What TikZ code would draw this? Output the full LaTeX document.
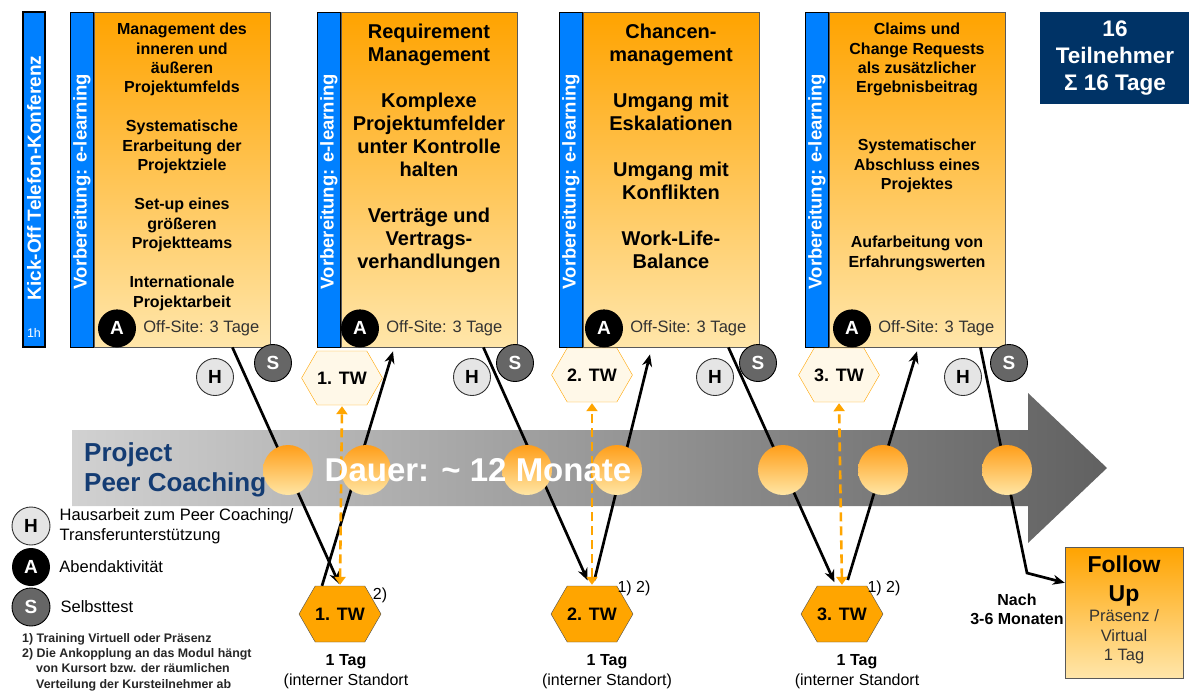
\documentclass[tikz,border=0pt]{standalone}
\usepackage{fontspec}
\setmainfont{Liberation Sans}
\usetikzlibrary{positioning,shapes.symbols,arrows.meta}

\definecolor{barblue}{RGB}{0,128,255}
\definecolor{boxorange}{RGB}{255,163,0}
\definecolor{boxmid}{RGB}{255,196,85}
\definecolor{boxlight}{RGB}{255,230,170}
\definecolor{navy}{RGB}{0,51,102}
\definecolor{titleblue}{RGB}{20,60,115}
\definecolor{hexorange}{RGB}{255,165,0}
\definecolor{hexcream}{RGB}{255,248,232}
\newcommand{\fs}[2]{\fontsize{#1}{#2}\selectfont}

\begin{document}
\begin{tikzpicture}[x=1pt,y=-1pt,
  modbox/.style={draw=black!65,top color=boxorange,middle color=boxmid,bottom color=boxlight,
    minimum width=176pt,minimum height=335pt,inner sep=0},
  barbox/.style={draw=black,line width=1.3pt,fill=barblue,minimum width=23pt,minimum height=335pt,inner sep=0},
  bartext/.style={rotate=90,text=white,font=\bfseries\fs{18.5}{22}},
  modtext/.style={anchor=north,align=center,inner sep=0},
  offtext/.style={text=black!80,font=\fs{16.5}{20},inner sep=0},
  acirc/.style={circle,fill=black,text=white,minimum size=38pt,inner sep=0,font=\bfseries\fs{19}{20}},
  hcirc/.style={circle,draw=black!80,line width=.9pt,fill=black!10,minimum size=37pt,inner sep=0,font=\bfseries\fs{19}{20}},
  scirc/.style={circle,draw=black,line width=.9pt,fill=black!60,text=white,minimum size=37pt,inner sep=0,font=\bfseries\fs{19}{20}},
  tophex/.style={signal,signal to=east and west,signal pointer angle=120,draw=hexorange,fill=hexcream,
    minimum width=78pt,minimum height=54pt,inner sep=0,font=\bfseries\fs{18}{20}},
  bothex/.style={signal,signal to=east and west,signal pointer angle=120,draw=black!70,fill=hexorange,
    minimum width=80pt,minimum height=56pt,inner sep=0,font=\bfseries\fs{18}{20}},
  dot/.style={circle,minimum size=50pt,inner sep=0,top color={rgb,255:red,255;green,158;blue,25},
    bottom color={rgb,255:red,255;green,230;blue,165}},
  link/.style={line width=2.7pt,-{Stealth[length=12pt,width=10pt]}},
  twlink/.style={draw=hexorange,line width=2.6pt,dash pattern=on 9pt off 5pt,
    {Triangle[length=8pt,width=11pt]}-{Triangle[length=8pt,width=11pt]},shorten <=1pt,shorten >=1pt},
  legtext/.style={align=left,inner sep=0,font=\fs{16.5}{19.5}}]
\useasboundingbox (0,0) rectangle (1189,691);

% time line
\shade[left color=black!18,right color=black!62]
  (72,430) -- (1028,430) -- (1028,393) -- (1107,468) -- (1028,543) -- (1028,506) -- (72,506) -- cycle;

% kick-off
\node[barbox,minimum width=22pt] (kick) at (34,179.5) {};
\node[bartext,font=\bfseries\fs{19}{22}] (kicktxt) at (34,178) {Kick-Off Telefon-Konferenz};
\node[text=white,font=\fs{12.5}{14}] (kickh) at (34,333) {1h};

% the four modules
\foreach \i/\x/\ax/\hx/\sx in {1/94/23/215/273,2/341/19/472/515,3/583/21/715/758,4/829/23/963/1009}{
  \node[modbox,anchor=north west] (mod\i) at (\x,12) {};
  \node[barbox,anchor=north east] (bar\i) at (\x,12) {};
  \node[bartext] (vb\i) at ([yshift=-1.5pt]bar\i.center) {Vorbereitung: e-learning};
  \node[acirc] (a\i) at ([xshift=\ax pt,yshift=19pt]mod\i.south west) {A};
  \node[offtext,right=7pt of a\i] (off\i) {Off-Site: 3 Tage};
  \node[hcirc] (h\i) at (\hx,377) {H};
  \node[scirc] (s\i) at (\sx,363) {S};
}
\node[modtext,font=\bfseries\fs{16}{19.3}] (t1) at (182,23) {Management des\\inneren und\\äußeren\\Projektumfelds\\[20pt]
  Systematische\\Erarbeitung der\\Projektziele\\[20pt]Set-up eines\\größeren\\Projektteams\\[20pt]
  Internationale\\Projektarbeit};
\node[modtext,font=\bfseries\fs{20}{23}] (t2) at (429,24) {Requirement\\Management\\[23pt]Komplexe\\Projektumfelder\\
  unter Kontrolle\\halten\\[23pt]Verträge und\\Vertrags-\\verhandlungen};
\node[modtext,font=\bfseries\fs{20}{23}] (t3) at (671,24) {Chancen-\\management\\[23pt]Umgang mit\\Eskalationen\\[23pt]
  Umgang mit\\Konflikten\\[23pt]Work-Life-\\Balance};
\node[modtext,font=\bfseries\fs{16}{19.3}] (t4) at (917,23) {Claims und\\Change Requests\\als zusätzlicher\\Ergebnisbeitrag\\[39pt]
  Systematischer\\Abschluss eines\\Projektes\\[39pt]Aufarbeitung von\\Erfahrungswerten};

% participants
\node[fill=navy,text=white,minimum width=150pt,minimum height=92pt,inner sep=0,align=center,
  font=\bfseries\fs{22.5}{27}] (tn) at (1115,58) {16\\Teilnehmer\\Σ 16 Tage};

% transfer workshops
\foreach \i/\tx/\ty/\bx/\dx in {1/342/378/340/346,2/592/375/592/607,3/839/375/842/857}{
  \node[tophex] (thex\i) at (\tx,\ty) {\i. TW};
  \node[bothex] (bhex\i) at (\bx,614) {\i. TW};
  \node[align=center,inner sep=0,font=\fs{16}{20}] (day\i) at (\dx,672) {\textbf{1 Tag}\\(interner Standort\ifnum\i=2)\fi};
}
\node[font=\fs{16}{19}] (fn1) at (380,595) {2)};
\node[font=\fs{16}{19}] (fn2) at (634,588) {1) 2)};
\node[font=\fs{16}{19}] (fn3) at (884,588) {1) 2)};

% follow up
\node[draw=black!65,top color=boxorange,middle color=boxmid,bottom color=boxlight,
  minimum width=118pt,minimum height=131pt,inner sep=0] (follow) at (1124,612.5) {};
\node[align=center,inner sep=0,font=\bfseries\fs{23}{29}] (followhd) at (1124,581.5) {Follow\\Up};
\node[align=center,inner sep=0,text=black!80,font=\fs{16.5}{19.5}] (followsub) at (1124,637) {Präsenz /\\Virtual\\1 Tag};
\node[align=center,inner sep=0,font=\bfseries\fs{16}{19}] (nach) at (1017,609.5) {Nach\\3-6 Monaten};
\coordinate (knick) at (1027,573);

% connectors
\draw[link,shorten >=2pt] ([xshift=-38pt]mod1.south east) -- (bhex1.north);
\draw[link] ([xshift=-18pt]bhex1.north) -- ([xshift=52pt,yshift=-4pt]mod2.south west);
\draw[link,shorten >=6pt] ([xshift=-34pt]mod2.south east) -- ([xshift=-2pt]bhex2.north);
\draw[link,shorten <=6pt] ([xshift=1pt]bhex2.north) -- ([xshift=67pt,yshift=-7pt]mod3.south west);
\draw[link,shorten >=4pt] ([xshift=-31pt]mod3.south east) -- ([xshift=-6pt]bhex3.north);
\draw[link,shorten <=6pt] ([xshift=4pt]bhex3.north) -- ([xshift=88pt,yshift=-4pt]mod4.south west);
\draw[link] ([xshift=-25pt]mod4.south east) -- (knick) -- ([yshift=-36pt]follow.north west);
\foreach \i in {1,2,3}
  \draw[twlink] (bhex\i.north) -- (thex\i.south);

% milestones on the time line
\foreach \i/\x in {1/288,2/366,3/527,4/617,5/783,6/883,7/1007}
  \node[dot] (c\i) at (\x,470) {};
\node[anchor=west,align=left,inner sep=0,text=titleblue,font=\bfseries\fs{26}{30}] (ppc) at (84,470) {Project\\Peer Coaching};
\node[text=white,inner sep=0,font=\bfseries\fs{33}{36}] (dauer) at (478,470) {Dauer: \textasciitilde{} 12 Monate};

% legend
\node[hcirc,minimum size=38pt] (lh) at (31,526) {H};
\node[legtext,right=9pt of lh] (lhtxt) {Hausarbeit zum Peer Coaching/\\Transferunterstützung};
\node[acirc] (la) at (31,567) {A};
\node[legtext,right=9pt of la] (latxt) {Abendaktivität};
\node[scirc,minimum size=38pt] (ls) at (31,607) {S};
\node[legtext,right=10pt of ls] (lstxt) {Selbsttest};
\node[anchor=north west,align=left,inner sep=0,text=black!85,font=\bfseries\fs{12.4}{15.4}] (notes) at (22,633)
  {1) Training Virtuell oder Präsenz\\2) Die Ankopplung an das Modul hängt\\
   \hspace*{14pt}von Kursort bzw. der räumlichen\\\hspace*{14pt}Verteilung der Kursteilnehmer ab};
\end{tikzpicture}
\end{document}
